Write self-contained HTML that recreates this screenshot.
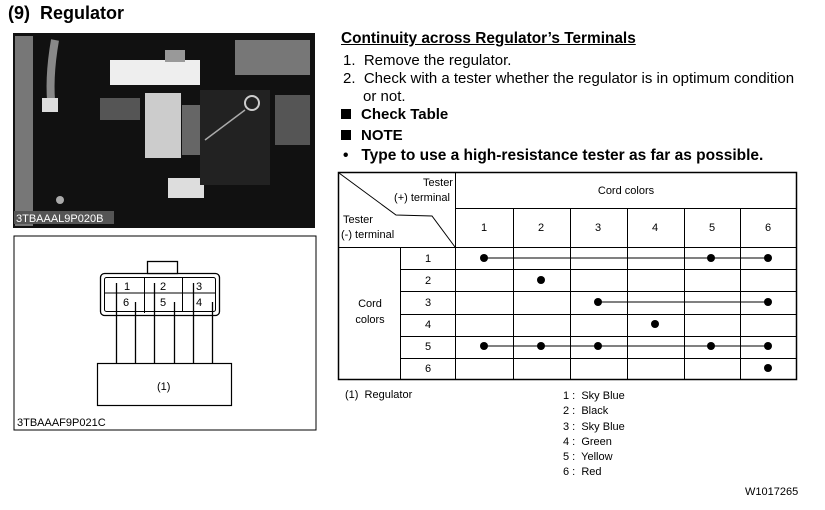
<!DOCTYPE html>
<html><head><meta charset="utf-8"><style>
body{margin:0;width:825px;height:510px;background:#fff;position:relative;font-family:"Liberation Sans",Arial,sans-serif;color:#000;overflow:hidden}
.a{position:absolute;white-space:nowrap}
</style></head><body>
<div class="a" style="left:8px;top:3px;font-size:18px;font-weight:bold">(9)&nbsp;&nbsp;Regulator</div>

<svg class="a" style="left:0;top:0" width="825" height="510">
<rect x="13" y="33" width="302" height="195" fill="#111"/>
<rect x="15" y="36" width="18" height="190" fill="#777"/>
<path d="M55 40 Q48 80 52 110" stroke="#888" stroke-width="8" fill="none"/>
<rect x="42" y="98" width="16" height="14" fill="#ddd"/>
<rect x="110" y="60" width="90" height="25" fill="#eee"/>
<rect x="165" y="50" width="20" height="12" fill="#999"/>
<rect x="100" y="98" width="40" height="22" fill="#555"/>
<rect x="145" y="93" width="36" height="65" fill="#ccc"/>
<rect x="182" y="105" width="20" height="50" fill="#666"/>
<rect x="168" y="178" width="36" height="20" fill="#ddd"/>
<rect x="235" y="40" width="75" height="35" fill="#777"/>
<rect x="275" y="95" width="35" height="50" fill="#555"/>
<rect x="200" y="90" width="70" height="95" fill="#222"/>
<circle cx="252" cy="103" r="7" fill="#222" stroke="#ccc" stroke-width="2"/>
<line x1="245" y1="110" x2="205" y2="140" stroke="#aaa" stroke-width="1.5"/>
<circle cx="60" cy="200" r="4" fill="#aaa"/>
<rect x="14" y="211" width="100" height="13" fill="#555"/>
<text x="16" y="222" font-size="11" fill="#fff" font-family="Liberation Sans,sans-serif">3TBAAAL9P020B</text>
<rect x="14" y="236" width="302" height="194" fill="none" stroke="#000" stroke-width="1"/>
<rect x="100.5" y="273.5" width="119" height="42" rx="4" fill="none" stroke="#000" stroke-width="1.3"/>
<rect x="104.5" y="277.5" width="111" height="34" rx="2" fill="none" stroke="#000"/>
<rect x="147.5" y="261.5" width="30" height="12" fill="#fff" stroke="#000" stroke-width="1.3"/>
<line x1="104" y1="293" x2="216" y2="293" stroke="#000"/>
<line x1="144.5" y1="277" x2="144.5" y2="313" stroke="#000"/>
<line x1="182.5" y1="277" x2="182.5" y2="311" stroke="#000"/>
<g stroke="#000" stroke-width="1.3">
<line x1="116.5" y1="283" x2="116.5" y2="363"/><line x1="135.5" y1="302" x2="135.5" y2="363"/>
<line x1="154.5" y1="283" x2="154.5" y2="363"/><line x1="174.5" y1="302" x2="174.5" y2="363"/>
<line x1="193.5" y1="283" x2="193.5" y2="363"/><line x1="212.5" y1="302" x2="212.5" y2="363"/>
</g>
<rect x="97.5" y="363.5" width="134" height="42" fill="none" stroke="#000" stroke-width="1.2"/>
<g font-size="11" font-family="Liberation Sans,sans-serif">
<text x="124" y="290">1</text><text x="160" y="290">2</text><text x="196" y="290">3</text>
<text x="123" y="306">6</text><text x="160" y="306">5</text><text x="196" y="306">4</text>
<text x="157" y="390">(1)</text>
<text x="17" y="426">3TBAAAF9P021C</text>
</g>
<g stroke="#000" stroke-width="1" fill="none">
<rect x="338.5" y="172.5" width="458" height="207" stroke-width="1.5"/>
<line x1="455.5" y1="172" x2="455.5" y2="380"/>
<line x1="455" y1="208.5" x2="797" y2="208.5"/>
<line x1="338" y1="247.5" x2="797" y2="247.5"/>
<line x1="400.5" y1="247" x2="400.5" y2="380"/>
<line x1="400" y1="269.5" x2="797" y2="269.5"/>
<line x1="400" y1="291.5" x2="797" y2="291.5"/>
<line x1="400" y1="314.5" x2="797" y2="314.5"/>
<line x1="400" y1="336.5" x2="797" y2="336.5"/>
<line x1="400" y1="358.5" x2="797" y2="358.5"/>
<line x1="513.5" y1="208" x2="513.5" y2="380"/>
<line x1="570.5" y1="208" x2="570.5" y2="380"/>
<line x1="627.5" y1="208" x2="627.5" y2="380"/>
<line x1="684.5" y1="208" x2="684.5" y2="380"/>
<line x1="740.5" y1="208" x2="740.5" y2="380"/>
<polyline points="339,173 396,215 432,216 455,247"/>
<line x1="484" y1="258" x2="768" y2="258"/>
<line x1="598" y1="302" x2="768" y2="302"/>
<line x1="484" y1="346" x2="768" y2="346"/>
</g>
<g fill="#000">
<circle cx="484" cy="258" r="4"/><circle cx="711" cy="258" r="4"/><circle cx="768" cy="258" r="4"/>
<circle cx="541" cy="280" r="4"/>
<circle cx="598" cy="302" r="4"/><circle cx="768" cy="302" r="4"/>
<circle cx="655" cy="324" r="4"/>
<circle cx="484" cy="346" r="4"/><circle cx="541" cy="346" r="4"/><circle cx="598" cy="346" r="4"/><circle cx="711" cy="346" r="4"/><circle cx="768" cy="346" r="4"/>
<circle cx="768" cy="368" r="4"/>
</g>
<g font-size="11" font-family="Liberation Sans,sans-serif" text-anchor="middle">
<text x="438" y="186">Tester</text><text x="422" y="201">(+) terminal</text>
<text x="626" y="194">Cord colors</text>
<text x="484" y="231">1</text><text x="541" y="231">2</text><text x="598" y="231">3</text><text x="655" y="231">4</text><text x="712" y="231">5</text><text x="768" y="231">6</text>
<text x="428" y="262">1</text><text x="428" y="284">2</text><text x="428" y="306">3</text><text x="428" y="328">4</text><text x="428" y="350">5</text><text x="428" y="372">6</text>
<text x="370" y="307">Cord</text><text x="370" y="323">colors</text>
</g>
<g font-size="11" font-family="Liberation Sans,sans-serif">
<text x="343" y="223">Tester</text><text x="341" y="238">(-) terminal</text>
</g>
</svg>

<div class="a" style="left:341px;top:30px;font-size:15.4px;font-weight:bold;text-decoration:underline">Continuity across Regulator’s Terminals</div>
<div class="a" style="left:343px;top:52px;font-size:15px">1.&nbsp; Remove the regulator.</div>
<div class="a" style="left:343px;top:70px;font-size:15px">2.&nbsp; Check with a tester whether the regulator is in optimum condition</div>
<div class="a" style="left:363px;top:88px;font-size:15px">or not.</div>
<div class="a" style="left:341px;top:106px;font-size:15px;font-weight:bold"><span style="display:inline-block;width:10px;height:10px;background:#000;margin-right:10px"></span>Check Table</div>
<div class="a" style="left:341px;top:127px;font-size:15px;font-weight:bold"><span style="display:inline-block;width:10px;height:10px;background:#000;margin-right:10px"></span>NOTE</div>
<div class="a" style="left:343px;top:147px;font-size:15.5px;font-weight:bold">•&nbsp;&nbsp; Type to use a high-resistance tester as far as possible.</div>

<div class="a" style="left:345px;top:389px;font-size:11px">(1)&nbsp; Regulator</div>
<div class="a" style="left:563px;top:389px;font-size:11px;line-height:15.3px">1 :&nbsp; Sky Blue<br>2 :&nbsp; Black<br>3 :&nbsp; Sky Blue<br>4 :&nbsp; Green<br>5 :&nbsp; Yellow<br>6 :&nbsp; Red</div>
<div class="a" style="left:745px;top:486px;font-size:11px">W1017265</div>
</body></html>
